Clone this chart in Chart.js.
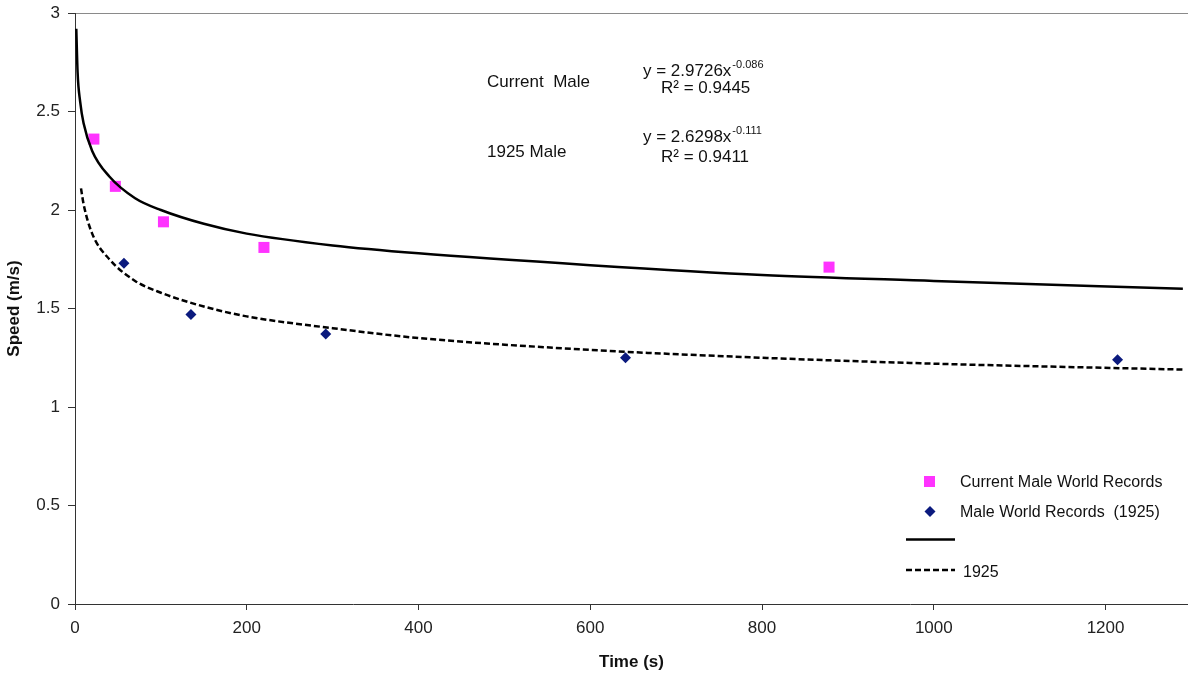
<!DOCTYPE html>
<html>
<head>
<meta charset="utf-8">
<script src="https://cdn.jsdelivr.net/npm/chart.js@4/dist/chart.umd.min.js"></script>
<style>
  html, body { margin: 0; padding: 0; background: #fff; overflow: hidden; }
  #chart1 { display: block; }
</style>
</head>
<body>
<canvas id="chart1" width="1188" height="676"></canvas>
<script>
// world record points (time s, speed m/s)
var currentTimes = [22, 47, 103, 220, 878];
var currentSpeeds = [2.36, 2.12, 1.94, 1.81, 1.71];
var oldTimes = [57, 135, 292, 641, 1214];
var oldSpeeds = [1.73, 1.47, 1.37, 1.25, 1.24];

// trend lines
var trendTimes = [1.5, 3, 6, 10, 20, 40, 70, 100, 150, 200, 300, 400, 600, 800, 1000, 1290];
var trendCurrent = [2.92, 2.70, 2.55, 2.44, 2.30, 2.17, 2.06, 2.00, 1.93, 1.88, 1.82, 1.78, 1.72, 1.67, 1.64, 1.60];
var trend1925Times = [7, 10, 20, 40, 70, 100, 150, 200, 300, 400, 600, 800, 1000, 1290];
var trend1925 = [2.11, 2.03, 1.88, 1.75, 1.64, 1.58, 1.51, 1.46, 1.40, 1.35, 1.29, 1.25, 1.22, 1.19];

var yTicks = [0, 0.5, 1, 1.5, 2, 2.5, 3];
var xTicks = [0, 200, 400, 600, 800, 1000, 1200];

function pts(xs, ys) {
  return xs.map(function (x, i) { return { x: x, y: ys[i] }; });
}

var FONT = '"Liberation Sans", Arial, sans-serif';
var MAGENTA = '#ff33ff';
var NAVY = '#0b1a7e';

// equations and custom legend drawn on top
var overlay = {
  id: 'overlay',
  afterDraw: function (chart) {
    var c = chart.ctx;
    c.save();
    c.fillStyle = '#111';
    c.textBaseline = 'alphabetic';
    c.textAlign = 'left';
    c.font = '17px ' + FONT;
    c.fillText('Current  Male', 487, 87);
    c.fillText('1925 Male', 487, 157);
    var w1 = c.measureText('y = 2.9726x').width;
    c.fillText('y = 2.9726x', 643, 76);
    c.fillText('R\u00b2 = 0.9445', 661, 93);
    var w2 = c.measureText('y = 2.6298x').width;
    c.fillText('y = 2.6298x', 643, 142);
    c.fillText('R\u00b2 = 0.9411', 661, 162);
    c.font = '11px ' + FONT;
    c.fillText('-0.086', 643 + w1 + 1, 68);
    c.fillText('-0.111', 643 + w2 + 1, 134);

    // legend
    c.font = '16px ' + FONT;
    c.fillStyle = MAGENTA;
    c.fillRect(924, 476, 11, 11);
    c.fillStyle = NAVY;
    c.beginPath();
    c.moveTo(930, 506); c.lineTo(935.5, 511.5); c.lineTo(930, 517); c.lineTo(924.5, 511.5);
    c.closePath(); c.fill();
    c.fillStyle = '#111';
    c.fillText('Current Male World Records', 960, 487);
    c.fillText('Male World Records  (1925)', 960, 517);
    c.fillText('1925', 963, 577);
    c.strokeStyle = '#000';
    c.lineWidth = 2.5;
    c.beginPath(); c.moveTo(906, 539.5); c.lineTo(955, 539.5); c.stroke();
    c.setLineDash([6, 3]);
    c.beginPath(); c.moveTo(906, 570); c.lineTo(955, 570); c.stroke();
    c.restore();
  }
};

var ctx1 = document.getElementById('chart1').getContext('2d');
var chart1 = new Chart(ctx1, {
  type: 'scatter',
  data: {
    datasets: [
      {
        label: 'Current',
        type: 'line',
        data: pts(trendTimes, trendCurrent),
        borderColor: '#000',
        borderWidth: 2.5,
        pointRadius: 0,
        fill: false,
        cubicInterpolationMode: 'monotone'
      },
      {
        label: '1925',
        type: 'line',
        data: pts(trend1925Times, trend1925),
        borderColor: '#000',
        borderWidth: 2.5,
        borderDash: [6, 3],
        pointRadius: 0,
        fill: false,
        cubicInterpolationMode: 'monotone'
      },
      {
        label: 'Current Male World Records',
        data: pts(currentTimes, currentSpeeds),
        pointStyle: 'rect',
        pointRadius: 7.8,
        backgroundColor: MAGENTA,
        borderColor: MAGENTA,
        borderWidth: 0
      },
      {
        label: 'Male World Records  (1925)',
        data: pts(oldTimes, oldSpeeds),
        pointStyle: 'rectRot',
        pointRadius: 5.5,
        backgroundColor: NAVY,
        borderColor: NAVY,
        borderWidth: 0
      }
    ]
  },
  options: {
    responsive: false,
    animation: false,
    devicePixelRatio: 1,
    layout: { autoPadding: false, padding: { top: 13, right: 0, left: 0, bottom: 0 } },
    plugins: {
      legend: { display: false },
      tooltip: { enabled: false }
    },
    scales: {
      x: {
        type: 'linear',
        min: 0,
        max: 1296,
        afterBuildTicks: function (s) {
          s.ticks = xTicks.map(function (v) { return { value: v }; });
        },
        afterFit: function (s) {
          s.height = 72;
          s.paddingLeft = 0;
          s.paddingRight = 0;
        },
        border: { color: '#333', width: 1 },
        grid: { color: 'transparent', tickColor: '#333', tickLength: 6, drawOnChartArea: false },
        ticks: {
          color: '#222',
          font: { family: FONT, size: 17 },
          padding: 8,
          maxRotation: 0,
          callback: function (v) { return String(v); }
        },
        title: {
          display: true,
          text: 'Time (s)',
          color: '#111',
          font: { family: FONT, size: 17, weight: 'bold' },
          padding: { top: 0, bottom: 3 }
        }
      },
      y: {
        min: 0,
        max: 3,
        afterBuildTicks: function (s) {
          s.ticks = yTicks.map(function (v) { return { value: v }; });
        },
        afterFit: function (s) {
          s.width = 75;
          s.paddingTop = 0;
          s.paddingBottom = 0;
        },
        border: { color: '#333', width: 1 },
        grid: {
          color: function (c) { return c.tick && c.tick.value === 3 ? '#8a8a8a' : 'transparent'; },
          tickColor: '#333',
          tickLength: 7
        },
        ticks: {
          color: '#222',
          font: { family: FONT, size: 17 },
          padding: 8,
          callback: function (v) { return String(v); }
        },
        title: {
          display: true,
          text: 'Speed (m/s)',
          color: '#111',
          font: { family: FONT, size: 17, weight: 'bold' },
          padding: { top: 4, bottom: 0 }
        }
      }
    }
  },
  plugins: [overlay]
});
</script>
</body>
</html>
